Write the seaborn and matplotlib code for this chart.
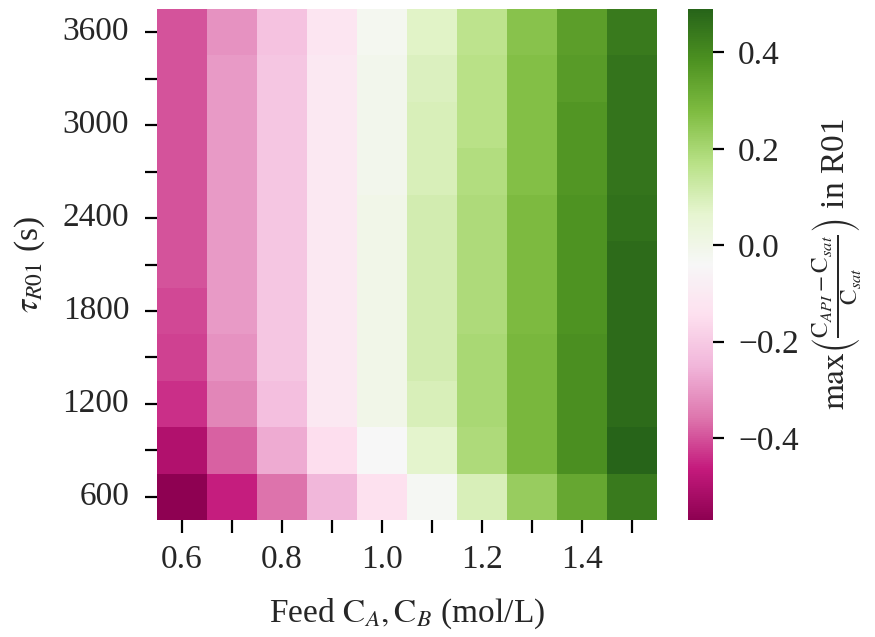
import matplotlib
matplotlib.use('Agg')
import matplotlib.pyplot as plt
import pandas as pd
import seaborn as sns

# Feed concentration of A and B (mol/L) -> columns
feed_conc = [0.6, 0.7, 0.8, 0.9, 1.0, 1.1, 1.2, 1.3, 1.4, 1.5]
# Residence time in R01 (s) -> rows, top to bottom
tau_r01 = [3600, 3300, 3000, 2700, 2400, 2100, 1800, 1500, 1200, 900, 600]

# max((C_API - C_sat) / C_sat) in R01, one row per residence time
row_3600 = [-0.40, -0.31, -0.22, -0.12, -0.02, 0.08, 0.16, 0.26, 0.35, 0.44]
row_3300 = [-0.40, -0.30, -0.21, -0.11, -0.01, 0.09, 0.17, 0.27, 0.36, 0.45]
row_3000 = [-0.40, -0.30, -0.21, -0.11, -0.01, 0.10, 0.17, 0.27, 0.37, 0.45]
row_2700 = [-0.40, -0.30, -0.21, -0.11, -0.01, 0.10, 0.18, 0.27, 0.37, 0.45]
row_2400 = [-0.40, -0.30, -0.21, -0.11, 0.00, 0.11, 0.19, 0.28, 0.38, 0.46]
row_2100 = [-0.40, -0.30, -0.21, -0.11, 0.00, 0.11, 0.19, 0.28, 0.38, 0.47]
row_1800 = [-0.41, -0.30, -0.21, -0.11, 0.00, 0.11, 0.19, 0.28, 0.38, 0.47]
row_1500 = [-0.42, -0.31, -0.21, -0.11, 0.00, 0.11, 0.20, 0.29, 0.39, 0.47]
row_1200 = [-0.44, -0.33, -0.23, -0.11, 0.00, 0.10, 0.20, 0.29, 0.39, 0.47]
row_900 = [-0.50, -0.38, -0.27, -0.15, -0.04, 0.07, 0.19, 0.29, 0.39, 0.49]
row_600 = [-0.57, -0.46, -0.36, -0.25, -0.14, -0.03, 0.10, 0.23, 0.33, 0.44]

rows = [row_3600, row_3300, row_3000, row_2700, row_2400, row_2100,
        row_1800, row_1500, row_1200, row_900, row_600]

sns.set_style('ticks')
plt.rcParams['font.family'] = ['Liberation Serif', 'DejaVu Serif']
plt.rcParams['mathtext.fontset'] = 'stix'
plt.rcParams['font.size'] = 24

df = pd.DataFrame(rows, index=tau_r01, columns=feed_conc)

# only every other tick gets a label
xlabels = [f'{f:.1f}' if round(f * 10) % 2 == 0 else '' for f in feed_conc]
ylabels = [str(t) if t % 600 == 0 else '' for t in tau_r01]

fig = plt.figure(figsize=(8.75, 6.37), dpi=100)
ax = fig.add_axes([157 / 875, 117 / 637, 500 / 875, 511 / 637])
cax = fig.add_axes([688 / 875, 117 / 637, 25 / 875, 511 / 637])

sns.heatmap(df, ax=ax, cbar_ax=cax, cmap='PiYG',
            xticklabels=xlabels, yticklabels=ylabels)

ax.tick_params(axis='both', length=9, width=1.6, color='black', labelsize=24)
ax.tick_params(axis='y', rotation=0, pad=11)
ax.tick_params(axis='x', rotation=0, pad=9)
ax.set_xlabel(r'Feed $\mathrm{C}_{A}, \mathrm{C}_{B}$ (mol/L)', fontsize=24, labelpad=15)
ax.set_ylabel(r'$\tau_{R01}$ (s)', fontsize=24, labelpad=11)

cax.set_yticks([-0.4, -0.2, 0.0, 0.2, 0.4])
cax.set_yticklabels(['\u22120.4', '\u22120.2', '0.0', '0.2', '0.4'])
cax.tick_params(length=8, width=1.6, color='black', labelsize=24, pad=10)
cax.set_ylabel(r'$\max\left(\frac{\mathrm{C}_{API}-\mathrm{C}_{sat}}{\mathrm{C}_{sat}}\right)$ in R01',
               fontsize=24, labelpad=8)

fig.savefig('out.png', dpi=100)
